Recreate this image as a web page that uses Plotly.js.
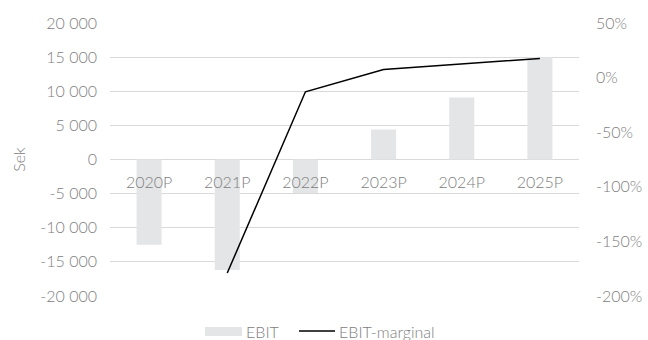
<!DOCTYPE html>
<html>
<head>
<meta charset="utf-8">
<script src="https://cdn.plot.ly/plotly-3.0.1.min.js"></script>
<style>
html,body{margin:0;padding:0;background:#fff;}
#chart{width:648px;height:340px;}
</style>
</head>
<body>
<div id="chart"></div>
<script>
const categories = ['2020P','2021P','2022P','2023P','2024P','2025P'];
const ebit = [-12500, -16200, -4900, 4400, 9100, 15000];
const ebitMargin = [null, -179, -13, 7.5, 12.5, 17.5];
const seriesNames = ['EBIT', 'EBIT-marginal'];
const leftTickVals = [-20000,-15000,-10000,-5000,0,5000,10000,15000,20000];
const leftTickText = ['-20 000','-15 000','-10 000','-5 000','0','5 000','10 000','15 000','20 000'];
const rightTickVals = [-200,-150,-100,-50,0,50];
const rightTickText = ['-200%','-150%','-100%','-50%','0%','50%'];

const txt = '#808080';
const barColor = '#e4e5e6';
const fnt = {family:'Lato, "Open Sans", sans-serif', size:16, color:txt, weight:300};

const traces = [
  {type:'bar', name:seriesNames[0], x:categories, y:ebit, marker:{color:barColor}, width:0.32, yaxis:'y'},
  {type:'scatter', mode:'lines', name:seriesNames[1], x:categories, y:ebitMargin,
   line:{color:'#000', width:1.5}, yaxis:'y2', connectgaps:false}
];

// Manual legend (paper coords; plot area = 469 x 273 px)
const px = v => (v - 110) / 469;
const py = v => (296 - v) / 273;

const layout = {
  width:648, height:340,
  margin:{l:110, r:69, t:23, b:44},
  paper_bgcolor:'#fff', plot_bgcolor:'#fff',
  font:fnt,
  showlegend:false,
  xaxis:{type:'category', range:[-0.5,5.5], anchor:'free', position:0.5,
    showgrid:false, showline:false, zeroline:false, ticks:'', ticklabelstandoff:11,
    tickfont:fnt, automargin:false},
  yaxis:{range:[-20000,20000], tickvals:leftTickVals, ticktext:leftTickText,
    showgrid:true, gridcolor:'#d9d9d9', gridwidth:1, zeroline:false, showline:false,
    ticks:'', ticklabelstandoff:12, tickfont:fnt,
    title:{text:'Sek', font:fnt, standoff:10}, automargin:false},
  yaxis2:{range:[-200,50], overlaying:'y', side:'right', tickvals:rightTickVals, ticktext:rightTickText,
    showgrid:false, zeroline:false, showline:false, ticks:'', ticklabelstandoff:16, tickfont:fnt, automargin:false},
  shapes:[
    {type:'rect', xref:'paper', yref:'paper', x0:px(205), x1:px(242), y0:py(336), y1:py(327),
     fillcolor:barColor, line:{width:0}},
    {type:'line', xref:'paper', yref:'paper', x0:px(299), x1:px(335), y0:py(331), y1:py(331),
     line:{color:'#000', width:1.5}}
  ],
  annotations:[
    {xref:'paper', yref:'paper', x:px(244), y:py(331), xanchor:'left', yanchor:'middle',
     text:seriesNames[0], showarrow:false, font:fnt},
    {xref:'paper', yref:'paper', x:px(337), y:py(331), xanchor:'left', yanchor:'middle',
     text:seriesNames[1], showarrow:false, font:fnt}
  ]
};

Plotly.newPlot('chart', traces, layout, {displayModeBar:false, staticPlot:true});
</script>
</body>
</html>
